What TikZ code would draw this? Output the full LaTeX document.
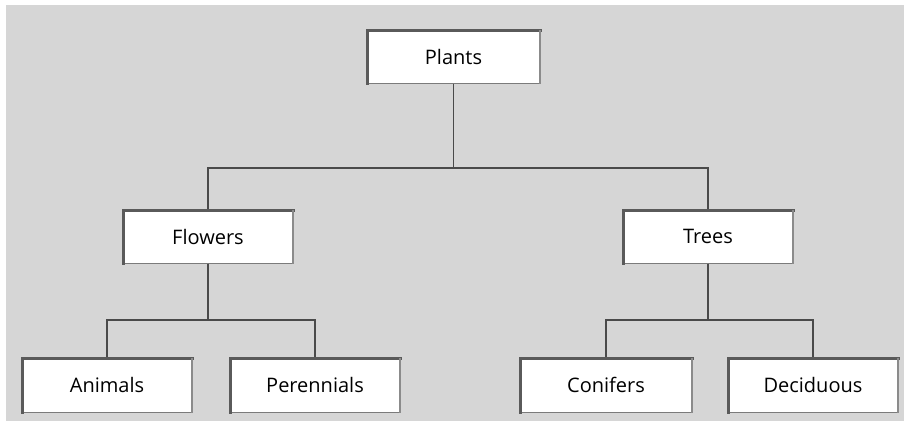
\documentclass[tikz,border=0pt]{standalone}
\usepackage{fontspec}
\setmainfont{Open Sans}
\definecolor{bg}{HTML}{D6D6D6}
\definecolor{edge}{HTML}{5A5A5A}
\definecolor{lineC}{HTML}{4A4A4A}
\tikzset{
  orgbox/.style={draw=edge!80, line width=1pt, fill=white, minimum width=170pt, minimum height=53pt, inner sep=0pt, font=\fontsize{20}{22}\selectfont, text=black},
  shade3d/.style={draw=edge, line width=3pt, line cap=rect},
  sideedge/.style={draw=edge!70, line width=2pt},
  conn/.style={draw=lineC, line width=1.4pt}
}
\begin{document}
\begin{tikzpicture}[x=1pt,y=-1pt]
\useasboundingbox (0,0) rectangle (904,421);
\fill[white] (0,0) rectangle (904,421);
\fill[bg] (6,5) rectangle (904,421);
\coordinate (b1) at (0,168);
\coordinate (b2) at (0,320);
\node[orgbox, minimum width=173pt] (plants) at (453.5,56.5) {Plants};
\node[orgbox] (flowers) at (208,236.5) {Flowers};
\node[orgbox] (trees) at (708,236.5) {Trees};
\node[orgbox, minimum height=54pt] (animals) at (107,385) {Animals};
\node[orgbox, minimum height=54pt] (perennials) at (315,385) {Perennials};
\node[orgbox, minimum height=54pt, minimum width=172pt] (conifers) at (606,385) {Conifers};
\node[orgbox, minimum height=54pt] (deciduous) at (813,385) {Deciduous};
\draw[conn] (plants.south) -- (plants.south |- b1);
\draw[conn] (flowers.north) |- (plants.south |- b1) -| (trees.north);
\draw[conn] (flowers.south) -- (flowers.south |- b2);
\draw[conn] (animals.north) |- (flowers.south |- b2) -| (perennials.north);
\draw[conn] (trees.south) -- (trees.south |- b2);
\draw[conn] (conifers.north) |- (trees.south |- b2) -| (deciduous.north);
\foreach \n in {plants,flowers,trees,animals,perennials,conifers,deciduous}{
  \draw[shade3d] ([xshift=0.5pt]\n.south west) -- ([xshift=0.5pt,yshift=-0.5pt]\n.north west) -- ([yshift=-0.5pt]\n.north east);
  \draw[sideedge] ([xshift=-0.5pt]\n.north east) -- ([xshift=-0.5pt]\n.south east);
}
\end{tikzpicture}
\end{document}
